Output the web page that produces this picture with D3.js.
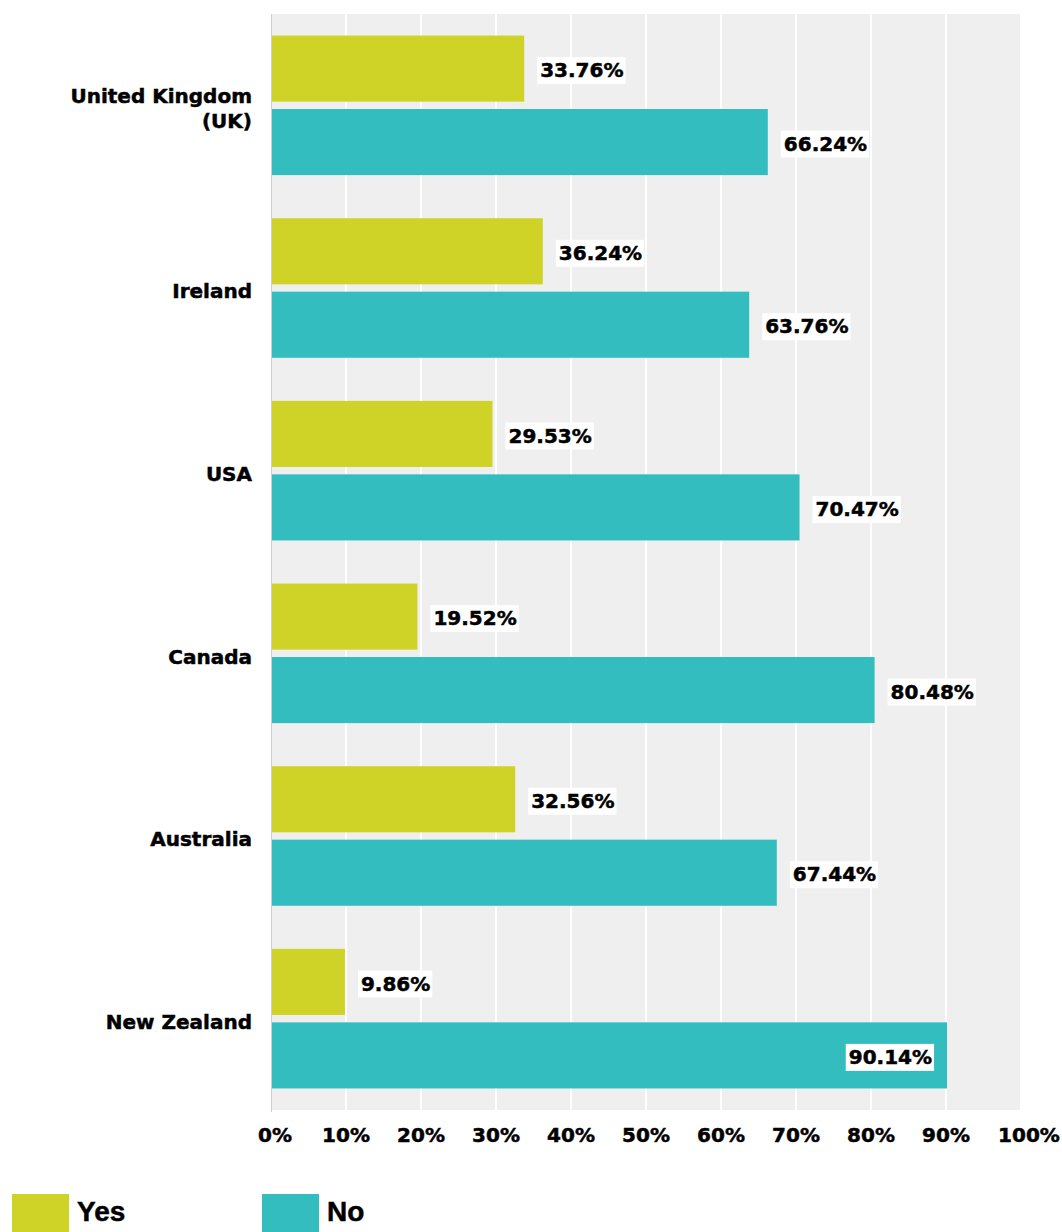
<!DOCTYPE html>
<html>
<head>
<meta charset="utf-8">
<script src="https://cdn.jsdelivr.net/npm/d3@7"></script>
<style>
  html, body { margin: 0; padding: 0; background: #ffffff; }
  svg { display: block; }
  .heavy { stroke: #000; stroke-width: 0.5px; paint-order: fill; }
</style>
</head>
<body>
<svg id="chart" width="1062" height="1232"></svg>
<script>
const categories = [["United Kingdom", "(UK)"], ["Ireland"], ["USA"], ["Canada"], ["Australia"], ["New Zealand"]];
const seriesNames = ["Yes", "No"];
const yesValues = [33.76, 36.24, 29.53, 19.52, 32.56, 9.86];
const noValues = [66.24, 63.76, 70.47, 80.48, 67.44, 90.14];
const tickValues = [0, 10, 20, 30, 40, 50, 60, 70, 80, 90, 100];
const colors = { Yes: "#D0D327", No: "#33BDBF" };

(function() {
const svg = d3.select("#chart");
const plotLeft = 271, plotRight = 1021, plotTop = 14, plotBottom = 1110;
const labelFont = "'DejaVu Sans', sans-serif";

const x = d3.scaleLinear().domain([0, 100]).range([plotLeft, plotRight]);
const catKeys = categories.map((c, i) => i);
const y = d3.scaleBand().domain(catKeys).range([plotTop, plotBottom]).padding(0);
const bw = y.bandwidth();
const ySub = d3.scaleBand().domain(seriesNames).range([bw * 0.118, bw * 0.882]).paddingInner(0.1);

// background
svg.append("rect").attr("x", plotLeft).attr("y", plotTop).attr("width", plotRight - plotLeft).attr("height", plotBottom - plotTop).attr("fill", "#efefef");

// gridlines
svg.append("g").selectAll("line").data(tickValues.slice(1)).join("line")
  .attr("x1", d => x(d)).attr("x2", d => x(d))
  .attr("y1", plotTop).attr("y2", plotBottom)
  .attr("stroke", "#ffffff").attr("stroke-width", 2);

// left axis line
svg.append("line").attr("x1", plotLeft + 0.5).attr("x2", plotLeft + 0.5).attr("y1", plotTop).attr("y2", plotBottom + 2)
  .attr("stroke", "#cfcfcf").attr("stroke-width", 1);

// data
const rows = catKeys.map(i => ({ i, Yes: yesValues[i], No: noValues[i] }));
const groups = svg.append("g").selectAll("g").data(rows).join("g")
  .attr("transform", d => `translate(0,${y(d.i)})`);

groups.selectAll("rect").data(d => seriesNames.map(s => ({ s, v: d[s] }))).join("rect")
  .attr("x", x(0) + 1)
  .attr("y", d => ySub(d.s))
  .attr("width", d => x(d.v) - x(0) - 1)
  .attr("height", ySub.bandwidth())
  .attr("fill", d => colors[d.s]);

// value labels
groups.each(function(d) {
  const g = d3.select(this);
  seriesNames.forEach(s => {
    const v = d[s];
    const txt = v.toFixed(2) + "%";
    const cy = ySub(s) + ySub.bandwidth() / 2 + 1.5;
    const lg = g.append("g");
    const t = lg.append("text").attr("class", "heavy")
      .attr("font-family", labelFont).attr("font-weight", "bold").attr("font-size", 20)
      .attr("fill", "#000").attr("dy", "0.36em").attr("y", cy).text(txt);
    const w = t.node().getComputedTextLength();
    let tx = x(v) + 16;
    if (tx + w + 4 > plotRight) tx = x(v) - 15 - w;
    t.attr("x", tx);
    lg.insert("rect", "text").attr("x", tx - 3).attr("y", cy - 13).attr("width", w + 5).attr("height", 27).attr("fill", "#ffffff");
  });
});

// category labels
const catG = svg.append("g").selectAll("text").data(rows).join("text").attr("class", "heavy")
  .attr("font-family", labelFont).attr("font-weight", "bold").attr("font-size", 20)
  .attr("fill", "#000").attr("text-anchor", "end");
catG.each(function(d) {
  const lines = categories[d.i];
  const cy = y(d.i) + bw / 2 + 3;
  const lh = 25;
  const t = d3.select(this);
  lines.forEach((ln, k) => {
    t.append("tspan").attr("x", 252)
      .attr("y", cy + (k - (lines.length - 1) / 2) * lh)
      .attr("dy", "0.36em").text(ln);
  });
});

// x axis tick labels
svg.append("g").selectAll("text").data(tickValues).join("text").attr("class", "heavy")
  .attr("x", d => x(d) + (d === 100 ? 8 : d === 0 ? 4 : 0)).attr("y", 1142)
  .attr("text-anchor", "middle")
  .attr("font-family", labelFont).attr("font-weight", "bold").attr("font-size", 20)
  .attr("fill", "#000").text(d => d + "%");

// legend
const legendX = [12, 262];
const leg = svg.append("g").selectAll("g").data(seriesNames).join("g")
  .attr("transform", (d, i) => `translate(${legendX[i]},1194)`);
leg.append("rect").attr("width", 57).attr("height", 45).attr("fill", d => colors[d]);
leg.append("text").attr("class", "heavy").attr("x", 65).attr("y", 27)
  .attr("font-family", "'Liberation Sans', Arial, sans-serif").attr("font-weight", "bold").attr("font-size", 28)
  .attr("fill", "#000").text(d => d);
})();
</script>
</body>
</html>
